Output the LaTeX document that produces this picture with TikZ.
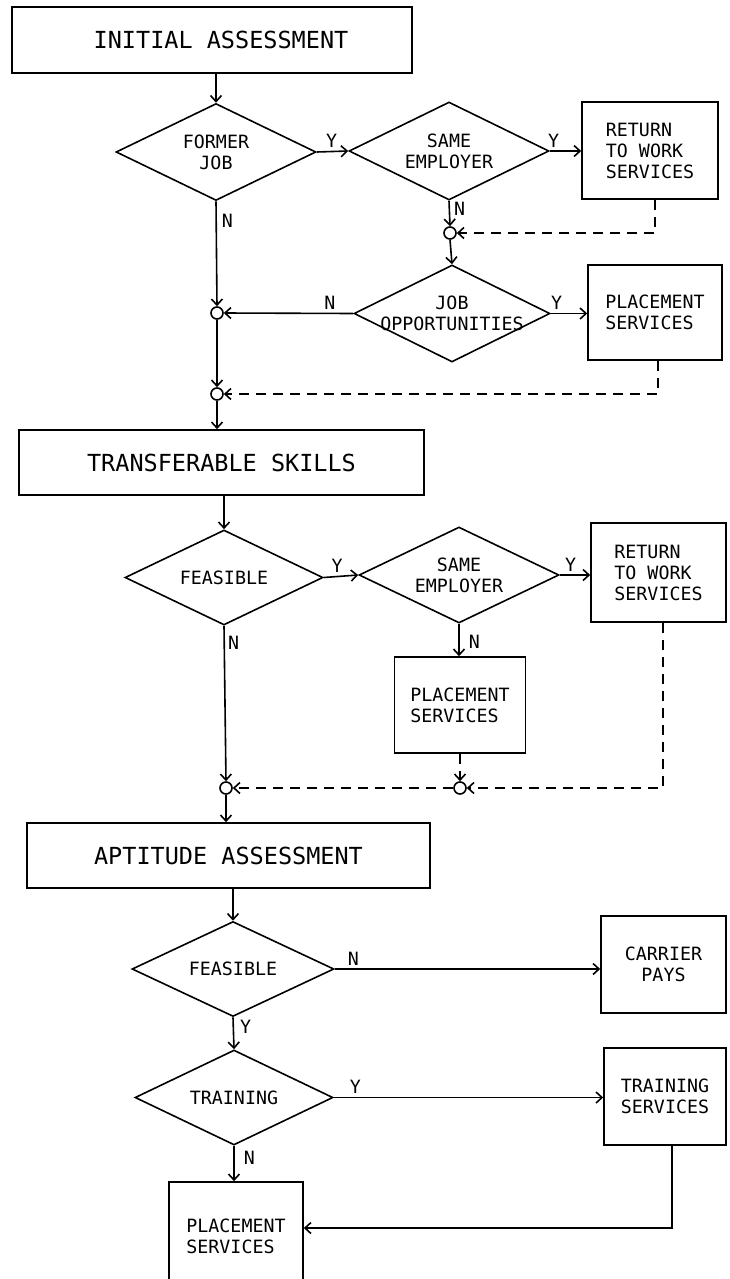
\documentclass[tikz,border=0pt]{standalone}
\usepackage{fontspec}
\newfontfamily\dmono{DejaVu Sans Mono}
\usetikzlibrary{shapes.geometric,arrows.meta}
\begin{document}
\begin{tikzpicture}[x=1pt,y=-1pt,
  line width=1.6pt,
  big/.style={font=\dmono\fontsize{23.5}{27}\selectfont},
  sm/.style={font=\dmono\fontsize{18.3}{21}\selectfont},
  bigbox/.style={draw, rectangle, inner sep=0pt, big},
  box/.style={draw, rectangle, inner sep=0pt, sm, align=left},
  dia/.style={draw, diamond, inner sep=0pt},
  dtext/.style={sm, align=center, inner sep=0pt},
  junc/.style={draw, circle, inner sep=0pt, minimum size=12pt},
  arr/.style={-{Straight Barb[length=6pt,width=11pt]}},
  dsh/.style={dash pattern=on 10pt off 7pt},
  lab/.style={sm, inner sep=1pt}]
\useasboundingbox (0,0) rectangle (730,1279);
\fill[white] (0,0) rectangle (730,1279);
\clip (0,0) rectangle (730,1279);

% nodes
\node[bigbox, minimum width=400pt, minimum height=66pt] (ia) at (212,40) {\hspace*{18pt}INITIAL ASSESSMENT};
\node[dia, minimum width=200pt, minimum height=97pt, label={[dtext]center:FORMER\\JOB}] (fj) at (216,152) {};
\node[dia, minimum width=200pt, minimum height=98pt, label={[dtext]center:SAME\\EMPLOYER}] (se1) at (449,151) {};
\node[box, minimum width=136pt, minimum height=97pt] (rtw1) at (650,150.5) {RETURN\\TO WORK\\SERVICES};
\node[junc] (c0) at (450,233) {};
\node[dia, minimum width=196pt, minimum height=97pt, label={[dtext]center:JOB\\OPPORTUNITIES}] (jo) at (452,313.5) {};
\node[box, minimum width=134pt, minimum height=95pt] (pl1) at (655,312.5) {PLACEMENT\\SERVICES};
\node[junc] (c1) at (217,313) {};
\node[junc] (c2) at (217,394) {};
\node[bigbox, minimum width=405pt, minimum height=65pt] (ts) at (221.5,462.5) {TRANSFERABLE SKILLS};
\node[dia, minimum width=198pt, minimum height=95pt, label={[dtext]center:FEASIBLE}] (fe2) at (224,577.5) {};
\node[dia, minimum width=200pt, minimum height=96pt, label={[dtext]center:SAME\\EMPLOYER}] (se2) at (459,575) {};
\node[box, minimum width=135pt, minimum height=99pt] (rtw2) at (658.5,572.5) {RETURN\\TO WORK\\SERVICES};
\node[box, minimum width=131pt, minimum height=96pt] (pl2) at (460,705) {PLACEMENT\\SERVICES};
\node[junc] (c3) at (226,788) {};
\node[junc] (c4) at (460,788) {};
\node[bigbox, minimum width=403pt, minimum height=65pt] (aa) at (228.5,855.5) {APTITUDE ASSESSMENT};
\node[dia, minimum width=202pt, minimum height=95pt, label={[dtext]center:FEASIBLE}] (fe3) at (233,969) {};
\node[box, align=center, minimum width=125pt, minimum height=97pt] (cp) at (663.5,964.5) {CARRIER\\PAYS};
\node[dia, minimum width=198pt, minimum height=95pt, label={[dtext]center:TRAINING}] (tr) at (234,1097.5) {};
\node[box, minimum width=122pt, minimum height=97pt] (trs) at (665,1096.5) {TRAINING\\SERVICES};
\node[box, minimum width=134pt, minimum height=108pt] (pl3) at (236,1236) {PLACEMENT\\SERVICES};

% connectors, section 1
\draw[arr] (fj.north |- ia.south) -- (fj.north);
\draw[arr] (fj.east) -- node[lab, above=2pt, pos=0.47]{Y} (se1.west);
\draw[arr] (se1.east) -- node[lab, above=2pt, pos=0.12]{Y} (se1.east -| rtw1.west);
\draw[arr] (se1.south) -- node[lab, right=3pt, pos=0.3]{N} (c0.north);
\draw[arr, dsh] ([xshift=5pt]rtw1.south) |- (c0.east);
\draw[arr] (c0.south) -- (jo.north);
\draw[arr] (jo.east) -- node[lab, above=2pt, pos=0.16]{Y} (jo.east -| pl1.west);
\draw[arr] (jo.west) -- node[lab, above=2pt, pos=0.18]{N} (c1.east);
\draw[arr] (fj.south) -- node[lab, right=4pt, pos=0.19]{N} (c1.north);
\draw[arr] (c1.south) -- (c2.north);
\draw[arr, dsh] ([xshift=3pt]pl1.south) |- (c2.east);
\draw[arr] (c2.south) -- (c2.south |- ts.north);

% section 2
\draw[arr] (fe2.north |- ts.south) -- (fe2.north);
\draw[arr] (fe2.east) -- node[lab, above=2pt, pos=0.39]{Y} (se2.west);
\draw[arr] (se2.east) -- node[lab, above=2pt, pos=0.36]{Y} (se2.east -| rtw2.west);
\draw[arr] (se2.south) -- node[lab, right=8pt, pos=0.55]{N} (se2.south |- pl2.north);
\draw[arr] (fe2.south) -- node[lab, right=2pt, pos=0.11]{N} (c3.north);
\draw[arr, dsh] (pl2.south) -- (c4.north);
\draw[arr, dsh] ([xshift=4.5pt]rtw2.south) |- (c4.east);
\draw[arr, dsh] (c4.west) -- (c3.east);
\draw[arr] (c3.south) -- (c3.south |- aa.north);

% section 3
\draw[arr] (fe3.north |- aa.south) -- (fe3.north);
\draw[arr] (fe3.east) -- node[lab, above=2pt, pos=0.07]{N} (fe3.east -| cp.west);
\draw[arr] (fe3.south) -- node[lab, right=5pt, pos=0.3]{Y} (tr.north);
\draw[arr] (tr.east) -- node[lab, above=2pt, pos=0.08]{Y} (tr.east -| trs.west);
\draw[arr] (tr.south) -- node[lab, right=8pt, pos=0.35]{N} (tr.south |- pl3.north);
\draw[arr] ([xshift=7pt]trs.south) |- ([yshift=8pt]pl3.east);
\end{tikzpicture}
\end{document}
